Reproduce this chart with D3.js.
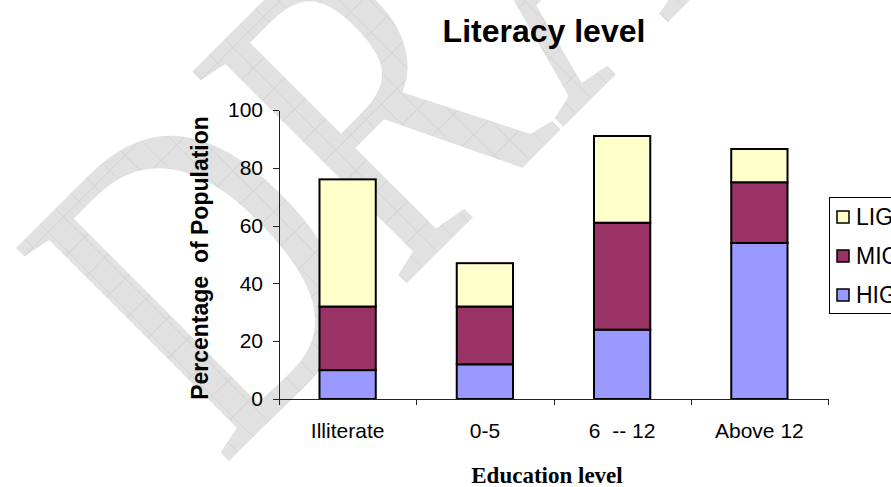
<!DOCTYPE html>
<html lang="en">
    <head>
        <meta charset="utf-8">
        <title>Literacy level</title>
        <script src="https://cdn.jsdelivr.net/npm/d3@7"></script>
        <style type="text/css">
            body { margin: 0; background: #fff; }
            svg { display: block; }
            .axis path,
            .axis line {
                fill: none;
                stroke: #222;
                shape-rendering: crispEdges;
            }
            .axis text {
                font-family: "Liberation Sans", Arial, sans-serif;
                font-size: 21px;
                fill: #000;
            }
        </style>
    </head>
    <body>
        <script type="text/javascript">
            const categories = ["Illiterate", "0-5", "6  -- 12", "Above 12"]
            const hig = [10, 12, 24, 54]
            const mig = [22, 20, 37, 21]
            const lig = [44, 15, 30, 11.5]
            const seriesNames = ["HIG", "MIG", "LIG"]
            const seriesColors = ["#9999ff", "#993366", "#ffffcc"]
            const yTicks = [0, 20, 40, 60, 80, 100]

            const w = 891
            const h = 487
            const plotLeft = 279, plotRight = 828, plotTop = 110, plotBottom = 399

            const rows = categories.map((c, i) => ({ cat: c, HIG: hig[i], MIG: mig[i], LIG: lig[i] }))

            const svg = d3.select("body")
                            .append("svg")
                            .attr("width", w)
                            .attr("height", h)

            // "DRAFT" watermark behind the chart
            const pat = svg.append("defs")
                            .append("pattern")
                            .attr("id", "wm")
                            .attr("patternUnits", "userSpaceOnUse")
                            .attr("width", 29)
                            .attr("height", 29)
            pat.append("rect").attr("width", 29).attr("height", 29).attr("fill", "#e1e1e1")
            pat.append("path").attr("d", "M0 0.5H29M0.5 0V29").attr("stroke", "#d3d3d3").attr("stroke-width", 1)

            svg.append("text")
                .text("DRAFT")
                .attr("transform", "translate(222,468) rotate(-45) scale(0.75,1)")
                .attr("font-family", "Liberation Serif, serif")
                .attr("font-size", 460)
                .attr("fill", "url(#wm)")

            const x = d3.scaleBand()
                        .domain(categories)
                        .range([plotLeft, plotRight])
                        .paddingInner(0.59)
                        .paddingOuter(0.295)

            const xEdges = d3.scaleLinear()
                        .domain([0, categories.length])
                        .range([plotLeft, plotRight])

            const y = d3.scaleLinear()
                        .domain([0, 100])
                        .range([plotBottom, plotTop])

            const color = d3.scaleOrdinal().domain(seriesNames).range(seriesColors)

            const stacked = d3.stack().keys(seriesNames)(rows)

            svg.append("g")
                .selectAll("g")
                .data(stacked)
                .enter()
                .append("g")
                .attr("fill", d => color(d.key))
                .selectAll("rect")
                .data(d => d)
                .enter()
                .append("rect")
                .attr("x", d => x(d.data.cat))
                .attr("y", d => y(d[1]))
                .attr("width", x.bandwidth())
                .attr("height", d => y(d[0]) - y(d[1]))
                .attr("stroke", "#000")
                .attr("stroke-width", 2)

            // y axis
            svg.append("g")
                .attr("class", "axis")
                .attr("transform", `translate(${plotLeft},0)`)
                .call(d3.axisLeft(y).tickValues(yTicks).tickSize(6).tickSizeOuter(0).tickPadding(10))

            // x axis: tick marks sit between the categories
            svg.append("g")
                .attr("class", "axis")
                .attr("transform", `translate(0,${plotBottom})`)
                .call(d3.axisBottom(xEdges).ticks(categories.length).tickFormat("").tickSize(6).tickSizeOuter(0))

            // x labels at category centres
            const xLab = svg.append("g")
                .attr("class", "axis")
                .attr("transform", `translate(0,${plotBottom})`)
                .call(d3.axisBottom(x).tickSize(0).tickPadding(24))
            xLab.select(".domain").remove()
            xLab.selectAll("text").style("white-space", "pre")

            // titles
            svg.append("text")
                .text("Literacy level")
                .attr("x", 544)
                .attr("y", 42)
                .attr("text-anchor", "middle")
                .attr("font-family", "Liberation Sans, Arial, sans-serif")
                .attr("font-weight", "bold")
                .attr("font-size", 32)

            svg.append("text")
                .text("Percentage  of Population")
                .style("white-space", "pre")
                .attr("transform", "translate(208,258) rotate(-90)")
                .attr("text-anchor", "middle")
                .attr("font-family", "Liberation Sans, Arial, sans-serif")
                .attr("font-weight", "bold")
                .attr("font-size", 23)

            svg.append("text")
                .text("Education level")
                .attr("x", 547)
                .attr("y", 483)
                .attr("text-anchor", "middle")
                .attr("font-family", "Liberation Serif, 'Times New Roman', serif")
                .attr("font-weight", "bold")
                .attr("font-size", 23)

            // legend (runs past the right edge, as in the original)
            const legend = svg.append("g").attr("transform", "translate(829,197)")
            legend.append("rect")
                .attr("width", 120)
                .attr("height", 116)
                .attr("fill", "#fff")
                .attr("stroke", "#000")
                .attr("stroke-width", 1)
                .attr("shape-rendering", "crispEdges")

            const legendOrder = ["LIG", "MIG", "HIG"]
            const items = legend.selectAll("g.item")
                .data(legendOrder)
                .enter()
                .append("g")
                .attr("class", "item")
                .attr("transform", (d, i) => `translate(8,${14 + i * 39})`)
            items.append("rect")
                .attr("width", 12)
                .attr("height", 12)
                .attr("fill", d => color(d))
                .attr("stroke", "#000")
                .attr("stroke-width", 1.5)
            items.append("text")
                .text(d => d)
                .attr("x", 19)
                .attr("y", 14)
                .attr("font-family", "Liberation Sans, Arial, sans-serif")
                .attr("font-size", 23)
        </script>
    </body>
</html>
